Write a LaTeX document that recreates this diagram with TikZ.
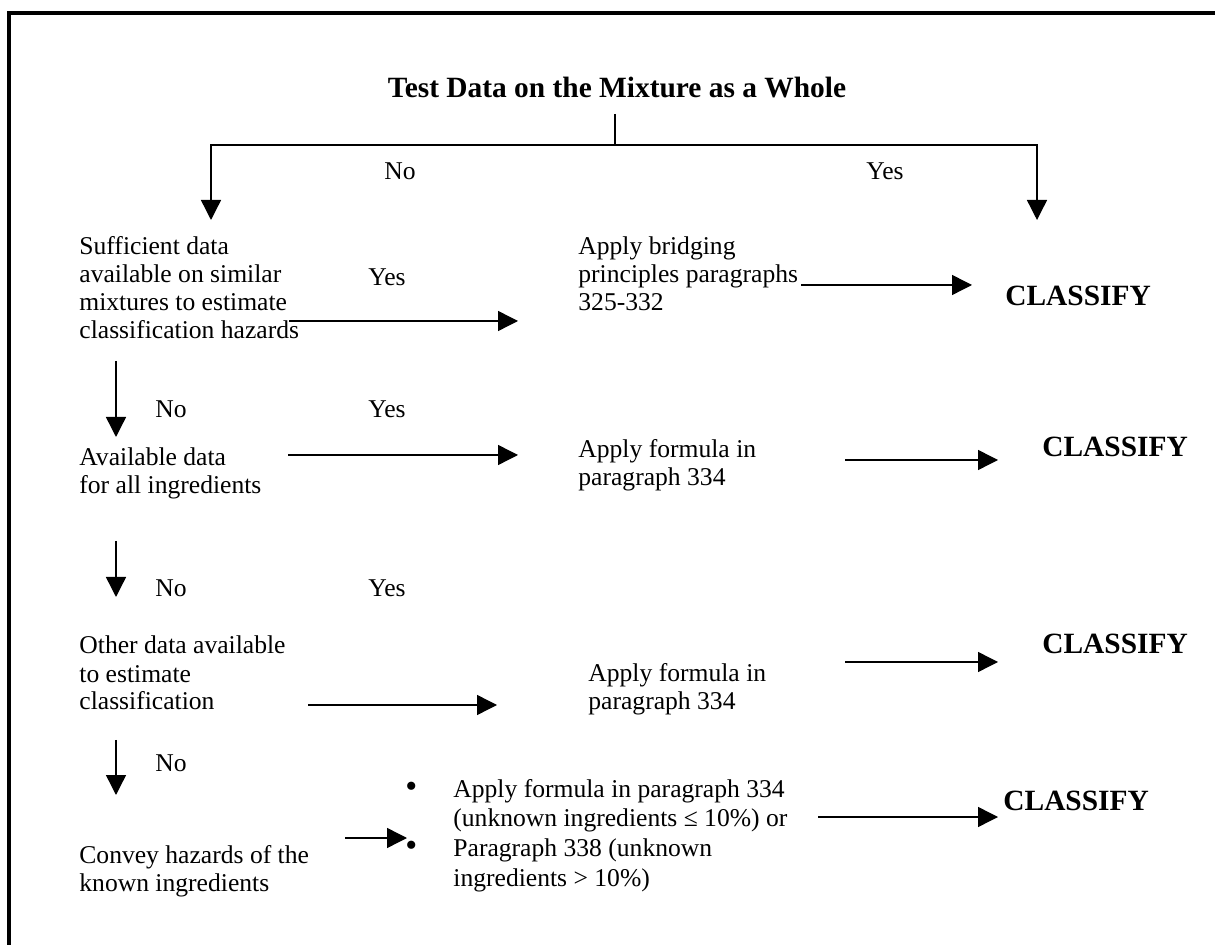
\documentclass[tikz,border=0pt]{standalone}
\usepackage{fontspec}
\setmainfont{Liberation Serif}
\usetikzlibrary{arrows.meta}
\newcommand{\mlines}[1]{\begin{tabular}[t]{@{}l@{}}#1\end{tabular}}
\newcommand{\bigbul}{{\fontsize{17}{14}\selectfont •}}
\begin{document}
\begin{tikzpicture}[x=0.5pt,y=-0.5pt,
  txt/.style={font=\fontsize{12.8}{14}\selectfont, inner sep=0pt, anchor=base west},
  cls/.style={font=\fontsize{14.7}{17}\selectfont\bfseries, inner sep=0pt, anchor=base west},
  ln/.style={line width=0.7pt},
  arr/.style={line width=0.7pt, line join=miter, -{Triangle[length=10pt,width=10pt]}}]
\useasboundingbox (0,0) rectangle (1215,945);
% frame
\draw[line width=1.85pt] (9.3,950) -- (9.3,13.3) -- (1220,13.3);
% title and split
\node[cls, anchor=base] (title) at (617,98) {Test Data on the Mixture as a Whole};
\coordinate (t0) at (615,114);
\coordinate (jm) at (615,145);
\coordinate (dl) at (211,220);
\coordinate (dr) at (1037,220);
\draw[ln] (t0) -- (jm);
\draw[arr] (jm) -| (dl);
\draw[arr] (jm) -| (dr);
\node[txt] (no0) at (384,180) {No};
\node[txt] (yes0) at (866,180) {Yes};
% row 1
\node[txt] (q1) at (79,255) {\mlines{Sufficient data\\available on similar\\mixtures to estimate\\classification hazards}};
\node[txt] (r1) at (578,255) {\mlines{Apply bridging\\principles paragraphs\\325-332}};
\node[cls] (c1) at (1005,306) {CLASSIFY};
\coordinate (a1s) at (289,321); \coordinate (a1e) at (518,321);
\draw[arr] (a1s) -- (a1e);
\node[txt] (yes1) at (368,286) {Yes};
\coordinate (b1s) at (801,285); \coordinate (b1e) at (972,285);
\draw[arr] (b1s) -- (b1e);
% down 1
\coordinate (d1s) at (116,361); \coordinate (d1e) at (116,437);
\draw[arr] (d1s) -- (d1e);
\node[txt] (no1) at (155,418) {No};
\node[txt] (yes2) at (368,418) {Yes};
% row 2
\node[txt] (q2) at (79,466) {\mlines{Available data\\for all ingredients}};
\node[txt] (r2) at (578,458) {\mlines{Apply formula in\\paragraph 334}};
\node[cls] (c2) at (1042,457) {CLASSIFY};
\coordinate (a2s) at (288,455); \coordinate (a2e) at (518,455);
\draw[arr] (a2s) -- (a2e);
\coordinate (b2s) at (845,460); \coordinate (b2e) at (998,460);
\draw[arr] (b2s) -- (b2e);
% down 2
\coordinate (d2s) at (116,541); \coordinate (d2e) at (116,597);
\draw[arr] (d2s) -- (d2e);
\node[txt] (no2) at (155,597) {No};
\node[txt] (yes3) at (368,597) {Yes};
% row 3
\node[txt] (q3) at (79,654) {\mlines{Other data available\\to estimate\\classification}};
\node[txt] (r3) at (588,682) {\mlines{Apply formula in\\paragraph 334}};
\node[cls] (c3) at (1042,654) {CLASSIFY};
\coordinate (a3s) at (308,705); \coordinate (a3e) at (497,705);
\draw[arr] (a3s) -- (a3e);
\coordinate (b3s) at (845,662); \coordinate (b3e) at (998,662);
\draw[arr] (b3s) -- (b3e);
% down 3
\coordinate (d3s) at (116,740); \coordinate (d3e) at (116,795);
\draw[arr] (d3s) -- (d3e);
\node[txt] (no3) at (155,771) {No};
\node[txt] (q4) at (79,863) {\mlines{Convey hazards of the\\known ingredients}};
% row 4
\node[txt] (r4) at (405,797) {\renewcommand{\arraystretch}{1.07}%
\begin{tabular}[t]{@{}p{24pt}@{}l@{}}
\bigbul & Apply formula in paragraph 334\\
 & (unknown ingredients ≤ 10\%) or\\
\bigbul & Paragraph 338 (unknown\\
 & ingredients > 10\%)
\end{tabular}};
\node[cls] (c4) at (1003,810) {CLASSIFY};
\coordinate (a4s) at (345,838); \coordinate (a4e) at (407,838);
\draw[arr] (a4s) -- (a4e);
\coordinate (b4s) at (818,817); \coordinate (b4e) at (998,817);
\draw[arr] (b4s) -- (b4e);
\end{tikzpicture}
\end{document}
